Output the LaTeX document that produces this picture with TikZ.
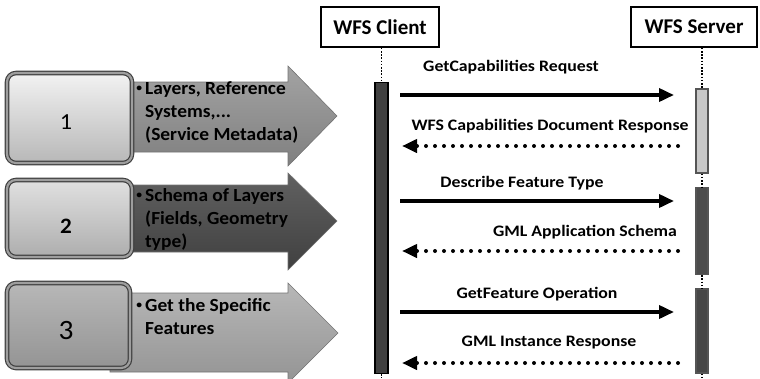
\documentclass[tikz,border=0pt]{standalone}
\usepackage{fontspec}
\setmainfont{Carlito}
\newfontfamily\labelfont{Carlito}[FakeStretch=1.11]
\newfontfamily\stepfont{Carlito}[FakeStretch=1.05]
\usetikzlibrary{arrows.meta,shapes.misc}
\definecolor{barDark}{HTML}{404040}
\definecolor{barLight}{HTML}{C8C8C8}
\definecolor{barEdge}{HTML}{555555}
\newcommand{\stepbullet}{\llap{\raisebox{2.8pt}{\fontsize{11}{11}\selectfont\textbullet}\hspace{3pt}}}
\tikzset{
  stepbox/.style={rounded corners=9pt, draw=black!75, line width=1.2pt,
    double=black!38, double distance=2.2pt},
  bigarrow/.style={draw=black!55, line width=0.6pt},
  actor/.style={draw=black, line width=1.6pt, inner sep=0pt, minimum height=40pt,
    font=\bfseries\fontsize{21}{24}\selectfont},
  lifeline/.style={line width=1.5pt, dash pattern=on 1.5pt off 1.7pt},
  bar/.style={line width=1.4pt},
  msg/.style={line width=3.6pt, -{Triangle[length=15pt,width=13pt]}},
  reply/.style={line width=4pt, line cap=round, dash pattern=on 0pt off 9pt,
    -{Triangle[length=15pt,width=13pt]}},
  msglabel/.style={font=\labelfont\bfseries\fontsize{16}{18}\selectfont, inner sep=0pt},
  steptext/.style={font=\stepfont\bfseries\fontsize{18.5}{23}\selectfont, align=left,
    anchor=north west, inner sep=0pt},
  stepnum/.style={inner sep=0pt}
}
\begin{document}
\begin{tikzpicture}[x=1pt,y=-1pt]
\useasboundingbox (0,0) rectangle (760,378);

% ---- step arrows (drawn first, boxes overlap their tails) ----
\path[bigarrow, top color=black!36, bottom color=black!50]
  (110,82) -- (288,82) -- (288,66) -- (337,116) -- (288,166) -- (288,152) -- (110,152) -- cycle;
\path[bigarrow, top color=black!62, bottom color=black!75]
  (110,185) -- (288,185) -- (288,173) -- (337,221) -- (288,270) -- (288,252) -- (110,252) -- cycle;
\path[bigarrow, top color=black!28, bottom color=black!42]
  (110,293) -- (288,293) -- (288,283) -- (338,333) -- (288,383) -- (288,372) -- (110,372) -- cycle;

% ---- numbered step boxes ----
\path[stepbox, top color=black!5, bottom color=black!28] (7,73) rectangle (132,163);
\path[stepbox, top color=black!12, bottom color=black!32] (7,180) rectangle (132,257);
\path[stepbox, top color=black!28, bottom color=black!42] (7,283) rectangle (130,368);

\node[stepnum, font=\stepfont\fontsize{23}{24}\selectfont] (n1) at (66,122) {1};
\node[stepnum, font=\stepfont\bfseries\fontsize{22}{24}\selectfont] (n2) at (66,226) {2};
\node[stepnum, font=\stepfont\fontsize{28}{30}\selectfont] (n3) at (66,331) {3};

\node[steptext] (t1) at (145,81) {\stepbullet Layers, Reference\\Systems,...\\(Service Metadata)};
\node[steptext] (t2) at (145,188) {\stepbullet Schema of Layers\\(Fields, Geometry\\type)};
\node[steptext] (t3) at (145,298) {\stepbullet Get the Specific\\Features};

% ---- participants ----
\node[actor, minimum width=118pt] (client) at (380,27) {WFS Client};
\node[actor, minimum width=126pt] (server) at (694,27) {WFS Server};

% activation bars
\node[bar, draw=black, fill=barDark, minimum width=13pt, minimum height=291pt, inner sep=0pt] (cbar) at (381.5,228) {};
\node[bar, draw=barEdge, fill=barLight, minimum width=12pt, minimum height=84pt, inner sep=0pt] (sbar1) at (702,131) {};
\node[bar, draw=barEdge, fill=black!70, minimum width=12pt, minimum height=87pt, inner sep=0pt] (sbar2) at (702,231) {};
\node[bar, draw=barEdge, fill=black!72, minimum width=12pt, minimum height=84pt, inner sep=0pt] (sbar3) at (702,331) {};

\coordinate (cend) at (381.5,378);
\coordinate (send) at (702,378);

% lifelines
\draw[lifeline] (client.south -| cbar) -- (cbar.north);
\draw[lifeline] (cbar.south) -- (cend);
\draw[lifeline] (server.south -| sbar1) -- (sbar1.north);
\draw[lifeline] (sbar1.south) -- (sbar2.north);
\draw[lifeline] (sbar2.south) -- (sbar3.north);
\draw[lifeline] (sbar3.south) -- (send);

% ---- messages ----
\coordinate (a1) at (400,95);  \coordinate (b1) at (674,95);
\coordinate (a2) at (678,146); \coordinate (b2) at (402,146);
\coordinate (a3) at (400,201); \coordinate (b3) at (674,201);
\coordinate (a4) at (678,251); \coordinate (b4) at (402,251);
\coordinate (a5) at (400,312); \coordinate (b5) at (674,312);
\coordinate (a6) at (678,363); \coordinate (b6) at (402,363);

\draw[msg] (a1) -- (b1);
\draw[reply] (a2) -- (b2);
\draw[msg] (a3) -- (b3);
\draw[reply] (a4) -- (b4);
\draw[msg] (a5) -- (b5);
\draw[reply] (a6) -- (b6);

\node[msglabel] (l1) at (511,67) {GetCapabilities Request};
\node[msglabel] (l2) at (550,126) {WFS Capabilities Document Response};
\node[msglabel] (l3) at (522,183) {Describe Feature Type};
\node[msglabel] (l4) at (585,232) {GML Application Schema};
\node[msglabel] (l5) at (537,294) {GetFeature Operation};
\node[msglabel] (l6) at (549,343) {GML Instance Response};
\end{tikzpicture}
\end{document}
